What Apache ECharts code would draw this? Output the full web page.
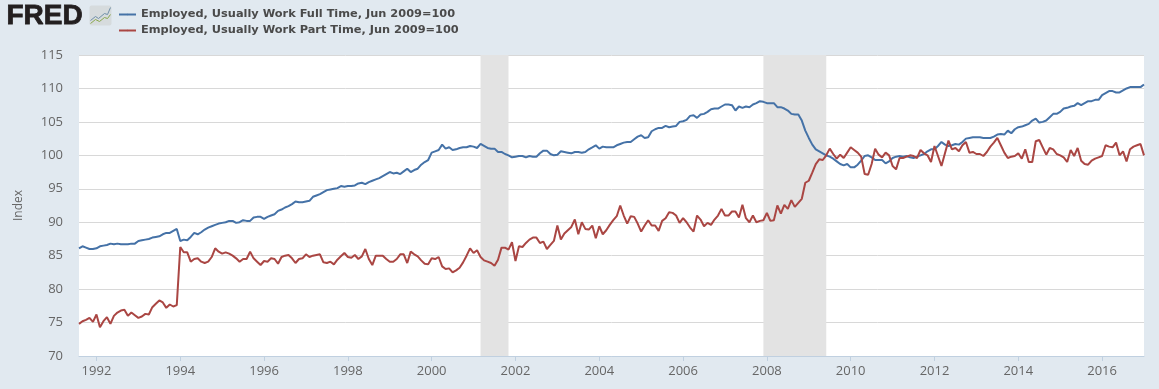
<!DOCTYPE html>
<html>
<head>
<meta charset="utf-8">
<title>FRED</title>
<style>
html, body { margin: 0; padding: 0; background: #e1e9f0; }
#chart { width: 1159px; height: 389px; }
</style>
<script src="https://cdn.jsdelivr.net/npm/echarts@6/dist/echarts.min.js"></script>
</head>
<body>
<div id="chart"></div>
<script>
//first month of the series, monthly after that
var startYear = 1991;
var startMonth = 8;

var seriesNames = ['Employed, Usually Work Full Time, Jun 2009=100', 'Employed, Usually Work Part Time, Jun 2009=100'];

//Aug 1991 - Jan 2017, one row per year
var fullTime = [
	86.1, 86.4, 86.2, 86.0, 86.0,
	86.1, 86.4, 86.5, 86.6, 86.8, 86.7, 86.8, 86.7, 86.7, 86.7, 86.8, 86.8,
	87.2, 87.3, 87.4, 87.5, 87.7, 87.8, 87.9, 88.2, 88.4, 88.4, 88.7, 89.0,
	87.2, 87.4, 87.3, 87.8, 88.4, 88.2, 88.5, 88.9, 89.2, 89.4, 89.6, 89.8,
	89.9, 90.0, 90.2, 90.2, 89.9, 90.0, 90.3, 90.2, 90.2, 90.7, 90.8, 90.8,
	90.5, 90.8, 91.0, 91.2, 91.7, 91.9, 92.2, 92.4, 92.7, 93.1, 93.0, 93.0,
	93.1, 93.2, 93.8, 94.0, 94.2, 94.5, 94.8, 94.9, 95.0, 95.1, 95.4, 95.3,
	95.4, 95.4, 95.5, 95.8, 95.9, 95.7, 96.0, 96.2, 96.4, 96.6, 96.9, 97.2,
	97.5, 97.3, 97.4, 97.2, 97.6, 98.0, 97.5, 97.8, 98.0, 98.6, 99.0, 99.3,
	100.4, 100.6, 100.8, 101.6, 101.0, 101.2, 100.8, 100.9, 101.1, 101.2, 101.2, 101.4,
	101.3, 101.1, 101.7, 101.4, 101.1, 101.0, 101.0, 100.5, 100.5, 100.2, 100.0, 99.7,
	99.8, 99.9, 99.9, 99.7, 99.9, 99.8, 99.8, 100.3, 100.7, 100.7, 100.2, 100.0,
	100.1, 100.6, 100.5, 100.4, 100.3, 100.5, 100.5, 100.4, 100.5, 100.9, 101.2, 101.5,
	101.0, 101.3, 101.2, 101.2, 101.2, 101.5, 101.7, 101.9, 102.0, 102.0, 102.4, 102.8,
	103.0, 102.6, 102.7, 103.6, 103.9, 104.1, 104.1, 104.4, 104.2, 104.3, 104.4, 105.0,
	105.1, 105.3, 105.9, 106.0, 105.6, 106.1, 106.2, 106.5, 106.9, 107.0, 107.0, 107.3,
	107.6, 107.6, 107.5, 106.7, 107.3, 107.1, 107.3, 107.2, 107.6, 107.8, 108.1, 108.0,
	107.8, 107.8, 107.8, 107.2, 107.2, 107.0, 106.7, 106.2, 106.1, 106.1, 105.2, 103.7,
	102.6, 101.6, 100.9, 100.6, 100.3, 100.0, 99.8, 99.5, 99.1, 98.7, 98.5, 98.7,
	98.2, 98.2, 98.6, 99.2, 99.9, 100.0, 99.7, 99.3, 99.3, 99.3, 98.8, 99.1,
	99.6, 99.8, 99.9, 99.8, 99.9, 99.7, 99.6, 99.8, 100.0, 100.2, 100.6, 100.9,
	100.9, 101.4, 102.0, 101.6, 101.4, 101.5, 101.7, 101.6, 102.0, 102.5, 102.6, 102.7,
	102.7, 102.7, 102.6, 102.6, 102.6, 102.8, 103.1, 103.2, 103.1, 103.7, 103.3, 103.9,
	104.2, 104.3, 104.5, 104.7, 105.2, 105.5, 104.9, 105.0, 105.2, 105.7, 106.2, 106.2,
	106.5, 107.0, 107.1, 107.3, 107.4, 107.8, 107.5, 107.8, 108.1, 108.1, 108.3, 108.3,
	109.0, 109.3, 109.6, 109.6, 109.4, 109.4, 109.7, 110.0, 110.2, 110.2, 110.2, 110.2,
	110.6
];

var partTime = [
	74.8, 75.2, 75.4, 75.7, 75.1,
	76.2, 74.3, 75.2, 75.8, 74.8, 76.0, 76.5, 76.8, 76.9, 76.0, 76.5, 76.1,
	75.7, 75.9, 76.3, 76.2, 77.3, 77.8, 78.3, 78.0, 77.2, 77.7, 77.4, 77.6,
	86.3, 85.5, 85.5, 84.1, 84.5, 84.6, 84.1, 83.9, 84.1, 84.8, 86.1, 85.6,
	85.3, 85.5, 85.3, 85.0, 84.6, 84.1, 84.5, 84.5, 85.6, 84.6, 84.1, 83.6,
	84.2, 84.1, 84.6, 84.5, 83.8, 84.8, 85.0, 85.1, 84.6, 83.9, 84.5, 84.6,
	85.2, 84.8, 85.0, 85.1, 85.2, 84.0, 83.9, 84.1, 83.7, 84.4, 84.9, 85.4,
	84.8, 84.7, 85.1, 84.5, 84.9, 86.0, 84.5, 83.6, 85.0, 85.0, 85.0, 84.5,
	84.1, 84.1, 84.5, 85.2, 85.2, 83.9, 85.6, 85.2, 84.9, 84.3, 83.8, 83.7,
	84.6, 84.5, 84.8, 83.4, 83.0, 83.1, 82.5, 82.8, 83.2, 84.0, 85.0, 86.1,
	85.4, 85.8, 84.8, 84.3, 84.1, 83.9, 83.5, 84.4, 86.2, 86.2, 85.9, 87.0,
	84.2, 86.4, 86.3, 86.9, 87.4, 87.7, 87.7, 86.9, 87.1, 86.0, 86.6, 87.2,
	89.5, 87.4, 88.3, 88.8, 89.3, 90.4, 88.2, 90.0, 89.0, 88.9, 89.5, 87.6,
	89.4, 88.2, 88.8, 89.6, 90.3, 90.9, 92.5, 91.0, 89.8, 90.9, 90.8, 89.8,
	88.6, 89.5, 90.3, 89.5, 89.5, 88.7, 90.2, 90.6, 91.5, 91.4, 91.0, 89.9,
	90.6, 90.0, 89.2, 88.6, 91.0, 90.4, 89.4, 89.9, 89.6, 90.4, 91.0, 92.0,
	91.0, 91.0, 91.6, 91.6, 90.7, 92.6, 90.6, 90.0, 91.0, 90.0, 90.2, 90.3,
	91.4, 90.2, 90.3, 92.5, 91.3, 92.6, 92.0, 93.3, 92.3, 92.9, 93.5, 95.9,
	96.2, 97.4, 98.7, 99.4, 99.3, 100.0, 101.0, 100.2, 99.5, 100.1, 99.6, 100.4,
	101.2, 100.8, 100.4, 99.8, 97.2, 97.1, 98.7, 101.0, 100.1, 99.7, 100.4, 100.0,
	98.4, 97.9, 99.6, 99.6, 99.8, 100.0, 99.9, 99.6, 100.8, 100.3, 100.0, 99.0,
	101.4, 99.9, 98.4, 100.3, 102.2, 100.9, 101.1, 100.6, 101.5, 102.0, 100.4, 100.5,
	100.2, 100.2, 99.9, 100.5, 101.3, 101.9, 102.6, 101.5, 100.4, 99.6, 99.8, 99.9,
	100.3, 99.5, 100.9, 99.0, 99.0, 102.1, 102.3, 101.2, 100.1, 101.1, 100.9, 100.2,
	100.0, 99.7, 99.0, 100.8, 99.9, 101.1, 99.2, 98.7, 98.6, 99.2, 99.5, 99.7,
	99.9, 101.5, 101.3, 101.2, 101.9, 100.0, 100.6, 99.1, 100.9, 101.3, 101.5, 101.7,
	100.0
];

//recession bands, first and last month
var recessions = [
	['2001-03', '2001-11'],
	['2007-12', '2009-06']
];

var months = fullTime.map(function(v, i) {
	var m = startMonth - 1 + i;
	var month = m % 12 + 1;
	return (startYear + Math.floor(m / 12)) + '-' + (month < 10 ? '0' : '') + month;
});

//every second January gets a tick and a label
var isYearTick = function(index, value) {
	var parts = value.split('-');
	return parts[1] === '01' && parseInt(parts[0], 10) % 2 === 0;
};

var chart = echarts.init(document.getElementById('chart'));
chart.setOption({
	animation: false,
	backgroundColor: '#e1e9f0',
	textStyle: { fontFamily: '"Open Sans", sans-serif' },
	color: ['#4572a7', '#aa4643'],
	legend: {
		left: 118,
		top: 8,
		orient: 'vertical',
		itemWidth: 17,
		itemHeight: 2,
		itemGap: 3,
		padding: 0,
		textStyle: {
			fontFamily: '"DejaVu Sans", sans-serif',
			fontSize: 11.35,
			fontWeight: 'bold',
			color: '#4a4a4a',
			lineHeight: 13
		},
		data: seriesNames
	},
	grid: {
		left: 79,
		right: 15,
		top: 55,
		bottom: 33,
		show: true,
		backgroundColor: '#fff',
		borderWidth: 0
	},
	xAxis: {
		type: 'category',
		boundaryGap: false,
		data: months,
		splitLine: { show: false },
		axisLine: { lineStyle: { color: '#c0d0e0', width: 1 } },
		axisTick: { interval: isYearTick, length: 5, lineStyle: { color: '#c0d0e0' } },
		axisLabel: {
			interval: isYearTick,
			margin: 9,
			color: '#666',
			fontSize: 13,
			formatter: function(v) {
				return v.split('-')[0];
			}
		}
	},
	yAxis: {
		type: 'value',
		min: 70,
		max: 115,
		interval: 5,
		name: 'Index',
		nameLocation: 'middle',
		nameGap: 54,
		nameTextStyle: { color: '#666', fontSize: 12 },
		axisLine: { show: false },
		axisTick: { show: false },
		splitLine: { lineStyle: { color: '#d8d8d8', width: 1 } },
		axisLabel: { margin: 16, color: '#666', fontSize: 13 }
	},
	graphic: [
		{
			type: 'text',
			left: 6,
			top: 2,
			style: {
				text: 'FRED',
				fill: '#231f20',
				font: '900 28px "Liberation Sans", sans-serif',
				stroke: '#231f20',
				lineWidth: 0.8
			}
		},
		{
			type: 'group',
			left: 88,
			top: 5,
			children: [
				{ type: 'rect', shape: { x: 0, y: 0, width: 22, height: 20, r: 2 }, style: { fill: '#d6dbdd' } },
				{ type: 'polyline', shape: { points: [[1, 15], [6, 11], [9, 13], [15, 8], [18, 9], [21, 2]] }, style: { stroke: '#6f8fa8', fill: null, lineWidth: 1 } },
				{ type: 'polyline', shape: { points: [[1, 18], [6, 14], [10, 16], [15, 12], [18, 13], [21, 9]] }, style: { stroke: '#8aa84f', fill: null, lineWidth: 1 } }
			]
		}
	],
	series: [
		{
			name: seriesNames[0],
			type: 'line',
			symbol: 'none',
			data: fullTime,
			lineStyle: { width: 2 },
			markArea: {
				silent: true,
				itemStyle: { color: '#e3e3e3' },
				data: recessions.map(function(r) {
					return [{ xAxis: r[0] }, { xAxis: r[1] }];
				})
			}
		},
		{
			name: seriesNames[1],
			type: 'line',
			symbol: 'none',
			data: partTime,
			lineStyle: { width: 2 }
		}
	]
});
</script>
</body>
</html>
